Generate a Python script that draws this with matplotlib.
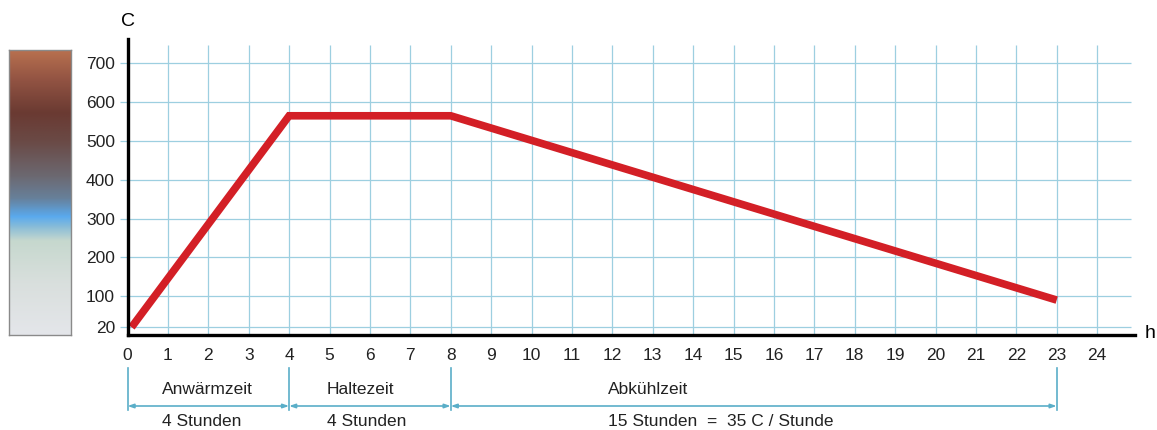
import matplotlib
matplotlib.use("Agg")
import matplotlib.pyplot as plt
import numpy as np
from matplotlib.colors import LinearSegmentedColormap

plt.rcParams['font.family'] = ['Liberation Sans', 'DejaVu Sans']

# Data
hours = [0.1, 4, 8, 23]
temps = [20, 565, 565, 90]
x_ticks = list(range(0, 25))
y_ticks = [20, 100, 200, 300, 400, 500, 600, 700]
phase_bounds = [0, 4, 8, 23]
phase_names = ["Anwärmzeit", "Haltezeit", "Abkühlzeit"]
phase_durations = ["4 Stunden", "4 Stunden", "15 Stunden  =  35 C / Stunde"]

W, H = 1157, 430
fig = plt.figure(figsize=(W / 100, H / 100), dpi=100)
fig.patch.set_facecolor("white")

# main axes: x=0 at px 127.5, axis end px 1135; y=0 at px 335, top px 39
x0px, x1px = 127.5, 1135
y0px, y1px = 335, 39
ax = fig.add_axes([x0px / W, (H - y0px) / H, (x1px - x0px) / W, (y0px - y1px) / H])
xmax = (x1px - x0px) / 40.4
ax.set_xlim(0, xmax)
ymax = (y0px - y1px) / 0.388
ax.set_ylim(0, ymax)

grid_c = "#9dcfe0"
ax.vlines(x_ticks[1:], 0, 748, color=grid_c, lw=0.9, zorder=1)
ax.hlines(y_ticks, 0, 24.85, color=grid_c, lw=0.9, zorder=1)

ax.plot(hours, temps, color="#d31f26", lw=5.5, solid_capstyle="butt",
        solid_joinstyle="miter", zorder=3)

for s in ["top", "right"]:
    ax.spines[s].set_visible(False)
for s in ["left", "bottom"]:
    ax.spines[s].set_linewidth(2.4)
    ax.spines[s].set_color("black")
    ax.spines[s].set_zorder(4)

ax.set_xticks(x_ticks)
ax.set_xticklabels([str(v) for v in x_ticks])
ax.set_yticks(y_ticks)
ax.set_yticklabels([str(v) for v in y_ticks])
ax.tick_params(axis="both", labelsize=12.5, labelcolor="#222222")
ax.tick_params(axis="x", length=0, pad=9)
ax.tick_params(axis="y", length=5.5, width=0.9, color=grid_c, pad=3.5)
ax.set_facecolor("white")

fig.text(x0px / W, 1 - 22 / H, "C", ha="center", va="center", fontsize=14)
fig.text(1150 / W, 1 - 334 / H, "h", ha="center", va="center", fontsize=14)

# phase annotations below axis
axh = y0px - y1px
def yf(px):
    return (y0px - px) / axh

tr = ax.get_xaxis_transform()
line_c = "#5aaec8"
for b in phase_bounds:
    ax.plot([b, b], [yf(368), yf(410)], transform=tr, color=line_c, lw=1.2,
            clip_on=False)
for i in range(3):
    a, b = phase_bounds[i], phase_bounds[i + 1]
    ax.annotate("", xy=(b, yf(406)), xytext=(a, yf(406)), xycoords=tr,
                textcoords=tr,
                arrowprops=dict(arrowstyle="<|-|>,head_length=0.35,head_width=0.12",
                                color=line_c, lw=1.2, shrinkA=0, shrinkB=0),
                annotation_clip=False)

text_x = [0.86, 4.94, 11.9]
for i in range(3):
    ax.text(text_x[i], yf(390), phase_names[i], transform=tr, ha="left",
            va="center", fontsize=12.5, color="#222222", clip_on=False)
    ax.text(text_x[i], yf(421), phase_durations[i], transform=tr, ha="left",
            va="center", fontsize=12.5, color="#222222", clip_on=False)

# decorative colour scale on the left
cax = fig.add_axes([9 / W, (H - 335) / H, 62 / W, 285 / H])
cmap = LinearSegmentedColormap.from_list("heat", [
    (0.0, "#b8704f"), (0.1, "#935443"), (0.22, "#6a3a32"), (0.32, "#6a4a46"),
    (0.44, "#6c6870"), (0.52, "#67809a"), (0.585, "#5aaaee"), (0.62, "#88bcd8"),
    (0.67, "#c6d8ce"), (0.82, "#d9dfdd"), (1.0, "#e4e6ea")])
grad = np.linspace(0, 1, 256).reshape(-1, 1)
cax.imshow(grad, aspect="auto", cmap=cmap, extent=[0, 1, 1, 0])
cax.set_xticks([])
cax.set_yticks([])
for s in cax.spines.values():
    s.set_color("#8a8a8a")
    s.set_linewidth(1.0)

fig.savefig("out.png", dpi=100)
